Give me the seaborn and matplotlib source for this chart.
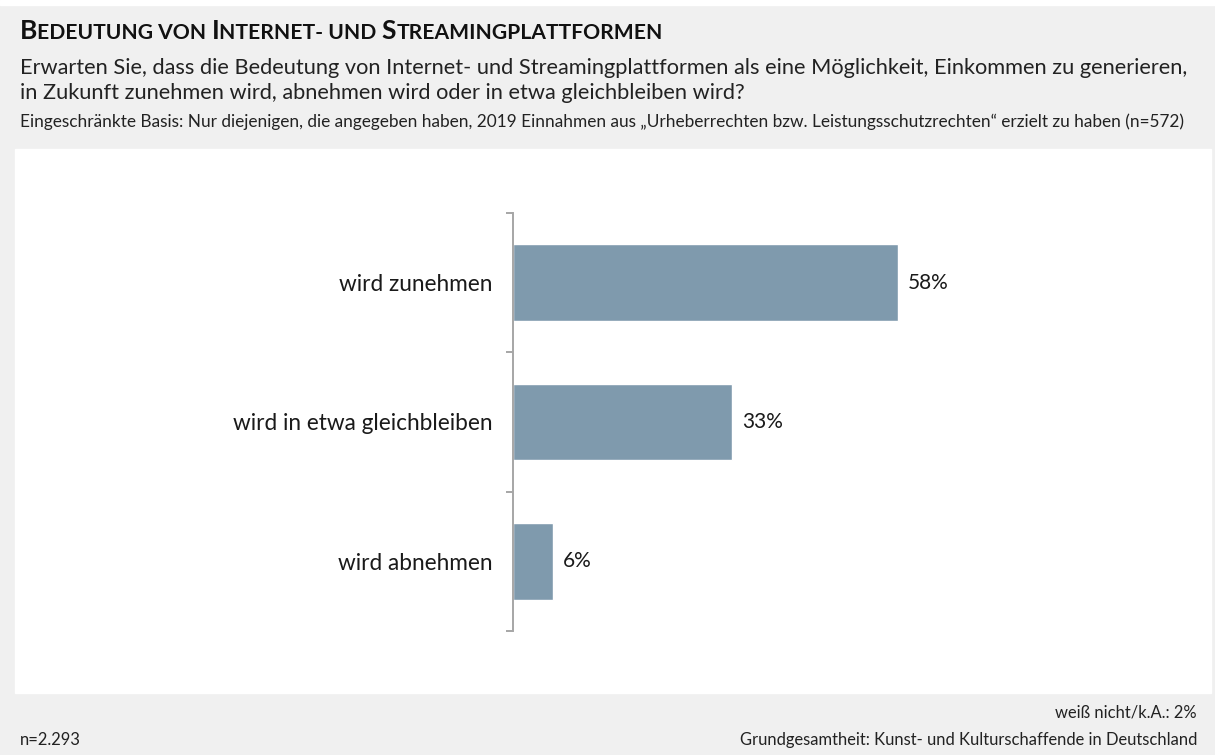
import numpy as np
import pandas as pd
import seaborn as sns
import matplotlib.pyplot as plt
from matplotlib.patches import Rectangle

# data
categories = ['wird zunehmen', 'wird in etwa gleichbleiben', 'wird abnehmen']
values = [58, 33, 6]
value_labels = ['58%', '33%', '6%']

title_parts = [('B', 'big'), ('EDEUTUNG VON ', 'small'), ('I', 'big'), ('NTERNET- UND ', 'small'),
               ('S', 'big'), ('TREAMINGPLATTFORMEN', 'small')]
question = ['Erwarten Sie, dass die Bedeutung von Internet- und Streamingplattformen als eine Möglichkeit, Einkommen zu generieren,',
            'in Zukunft zunehmen wird, abnehmen wird oder in etwa gleichbleiben wird?']
basis = ('Eingeschränkte Basis: Nur diejenigen, die angegeben haben, 2019 Einnahmen aus \u201eUrheberrechten bzw. '
         'Leistungsschutzrechten\u201c erzielt zu haben (n=572)')
note_missing = 'weiß nicht/k.A.: 2%'
note_n = 'n=2.293'
note_pop = 'Grundgesamtheit: Kunst- und Kulturschaffende in Deutschland'

df = pd.DataFrame({'cat': categories, 'val': values})

sns.set_style('white')
plt.rcParams['font.family'] = ['Lato', 'DejaVu Sans']

W, H = 1215, 755
fig = plt.figure(figsize=(W / 100, H / 100), dpi=100)
fig.patch.set_facecolor('#f0f0f0')

def px(x, y):
    return x / W, 1 - y / H

# white strip on top and white panel
fig.add_artist(Rectangle((0, 1 - 5 / H), 1, 5 / H, transform=fig.transFigure, color='white', zorder=0))
fig.add_artist(Rectangle(px(15, 693), (1211 - 15) / W, (693 - 149) / H, transform=fig.transFigure,
                         color='white', zorder=0))

ax = fig.add_axes([513 / W, 1 - 631 / H, 664 / W, (631 - 213) / H])
ax.set_facecolor('none')
sns.barplot(df, x='val', y='cat', color='#7f9aad', saturation=1, width=0.55, ax=ax)
ax.set_xlim(0, 100)
ax.set_ylim(2.5, -0.5)
for i, v in enumerate(values):
    ax.text(v + 1.5, i, value_labels[i], va='center', ha='left', fontsize=15, color='#1a1a1a')

sns.despine(ax=ax, top=True, right=True, bottom=True)
ax.spines['left'].set_color('#a6a6a6')
ax.spines['left'].set_linewidth(1.4)
ax.set_xticks([])
ax.set_yticks(range(len(categories)))
ax.set_yticklabels(categories, fontsize=16.3, color='#1a1a1a')
ax.tick_params(axis='y', which='major', length=0, pad=15)
ax.set_yticks(np.arange(-0.5, 3, 1), minor=True)
ax.tick_params(axis='y', which='minor', left=True, length=5, width=1.4, color='#a6a6a6')
ax.set_xlabel(None)
ax.set_ylabel(None)

# title with small caps
fig.canvas.draw()
r = fig.canvas.get_renderer()
x0 = 20
for txt, kind in title_parts:
    t = fig.text(x0 / W, 1 - 39 / H, txt, fontsize=19 if kind == 'big' else 15.2,
                 fontweight='bold', color='#111111', va='baseline', ha='left')
    bb = t.get_window_extent(r)
    x0 += bb.width

fig.text(20 / W, 1 - 74 / H, question[0], fontsize=15.7, color='#222222', va='baseline', ha='left')
fig.text(20 / W, 1 - 99 / H, question[1], fontsize=15.7, color='#222222', va='baseline', ha='left')
fig.text(20 / W, 1 - 122 / H, basis, fontsize=12.4, color='#222222', va='center', ha='left')
fig.text(1197 / W, 1 - 713 / H, note_missing, fontsize=11.9, color='#222222', va='center', ha='right')
fig.text(20 / W, 1 - 740 / H, note_n, fontsize=11.9, color='#222222', va='center', ha='left')
fig.text(1197 / W, 1 - 740 / H, note_pop, fontsize=11.9, color='#222222', va='center', ha='right')

fig.savefig('out.png', dpi=100, facecolor=fig.get_facecolor())
